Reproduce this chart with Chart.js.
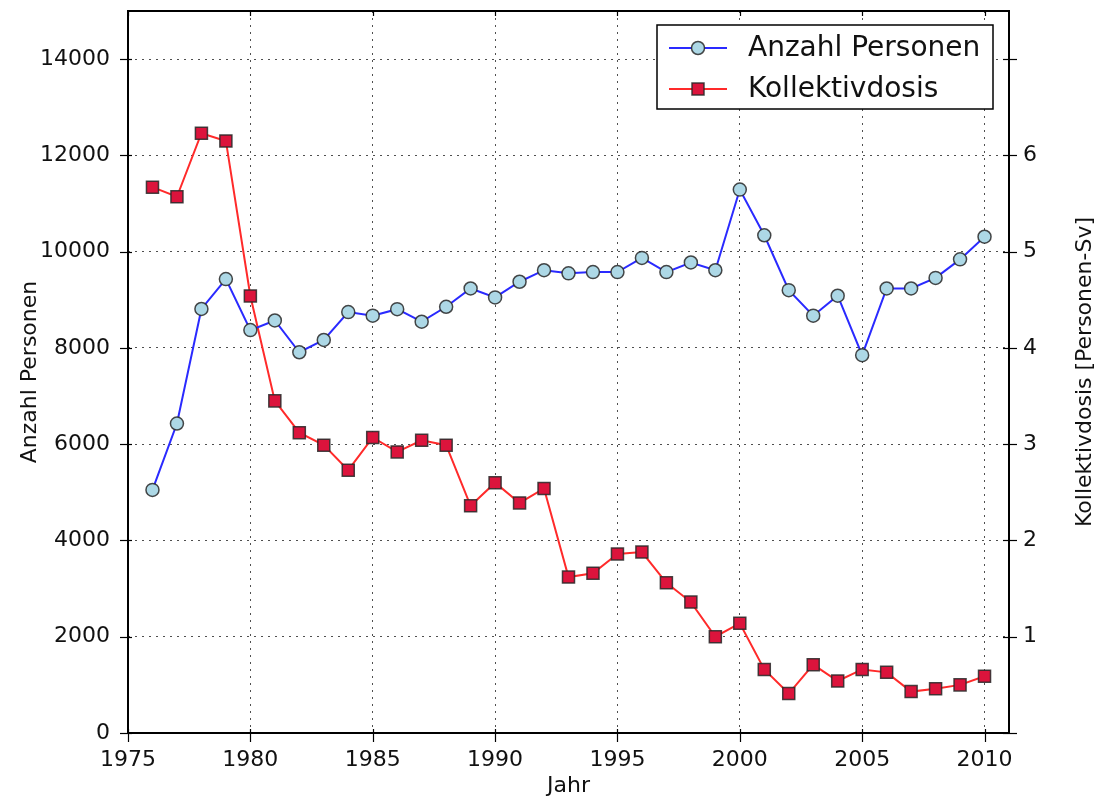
<!DOCTYPE html>
<html>
<head>
<meta charset="utf-8">
<script src="https://cdn.jsdelivr.net/npm/chart.js@4.4.0/dist/chart.umd.min.js"></script>
<style>
html, body { margin: 0; padding: 0; background: #fff; }
canvas { display: block; }
</style>
</head>
<body>
<canvas id="myChart" width="1099" height="801"></canvas>
<script>
var jahre = [1976, 1977, 1978, 1979, 1980, 1981, 1982, 1983, 1984, 1985,
             1986, 1987, 1988, 1989, 1990, 1991, 1992, 1993, 1994, 1995,
             1996, 1997, 1998, 1999, 2000, 2001, 2002, 2003, 2004, 2005,
             2006, 2007, 2008, 2009, 2010];
var personen = [5050, 6430, 8810, 9430, 8370, 8570, 7910, 8165, 8745, 8670,
                8805, 8545, 8855, 9235, 9050, 9375, 9615, 9550, 9575, 9575,
                9870, 9575, 9775, 9615, 11290, 10340, 9200, 8670, 9085, 7850,
                9235, 9235, 9455, 9840, 10310];
var dosis = [5.67, 5.57, 6.23, 6.15, 4.54, 3.45, 3.12, 2.99, 2.73, 3.07,
             2.92, 3.04, 2.99, 2.36, 2.60, 2.39, 2.54, 1.62, 1.66, 1.86,
             1.88, 1.56, 1.36, 1.00, 1.14, 0.66, 0.41, 0.71, 0.54, 0.66,
             0.63, 0.43, 0.46, 0.50, 0.59];
var xTicks = [1975, 1980, 1985, 1990, 1995, 2000, 2005, 2010];
var yTicksLinks = [0, 2000, 4000, 6000, 8000, 10000, 12000, 14000];
var yTicksRechts = [0, 1, 2, 3, 4, 5, 6, 7];

var schrift = 'DejaVu Sans';

// Rahmen, Tickstriche, Achsentitel und Legende
var zusatz = {
    id: 'zusatz',
    afterDatasetsDraw: function(chart) {
        var ctx = chart.ctx;
        var a = chart.chartArea;
        ctx.save();
        ctx.strokeStyle = '#000';
        ctx.lineWidth = 1.2;
        ctx.setLineDash([]);
        // x ticks (unten und oben)
        var sx = chart.scales.x;
        xTicks.forEach(function(v) {
            var p = Math.round(sx.getPixelForValue(v)) + 0.5;
            ctx.beginPath();
            ctx.moveTo(p, a.bottom - 4);
            ctx.lineTo(p, a.bottom + 9);
            ctx.moveTo(p, a.top);
            ctx.lineTo(p, a.top + 5);
            ctx.stroke();
        });
        var sl = chart.scales.y;
        yTicksLinks.forEach(function(v) {
            var p = Math.round(sl.getPixelForValue(v)) + 0.5;
            ctx.beginPath();
            ctx.moveTo(a.left - 8, p);
            ctx.lineTo(a.left + 4, p);
            ctx.stroke();
        });
        var sr = chart.scales.y2;
        yTicksRechts.forEach(function(v) {
            var p = Math.round(sr.getPixelForValue(v)) + 0.5;
            ctx.beginPath();
            ctx.moveTo(a.right - 6, p);
            ctx.lineTo(a.right + 8, p);
            ctx.stroke();
        });
        // Rahmen
        ctx.lineWidth = 2;
        ctx.strokeRect(a.left, a.top, a.right - a.left, a.bottom - a.top);

        // Achsentitel
        ctx.fillStyle = '#111';
        ctx.font = '22px "' + schrift + '"';
        ctx.textAlign = 'center';
        ctx.textBaseline = 'middle';
        var mitteY = (a.top + a.bottom) / 2;
        ctx.fillText('Jahr', (a.left + a.right) / 2, 786);
        ctx.save();
        ctx.translate(30, mitteY);
        ctx.rotate(-Math.PI / 2);
        ctx.fillText('Anzahl Personen', 0, 0);
        ctx.restore();
        ctx.save();
        ctx.translate(1085, mitteY);
        ctx.rotate(-Math.PI / 2);
        ctx.fillText('Kollektivdosis [Personen-Sv]', 0, 0);
        ctx.restore();

        // Legende
        var bx = a.right - 352, by = a.top + 14, bw = 336, bh = 84;
        ctx.fillStyle = '#fff';
        ctx.fillRect(bx, by, bw, bh);
        ctx.lineWidth = 1.5;
        ctx.strokeStyle = '#000';
        ctx.strokeRect(bx, by, bw, bh);
        ctx.font = '28px "' + schrift + '"';
        ctx.textAlign = 'left';
        chart.data.datasets.forEach(function(ds, i) {
            var ly = by + 23 + i * 41;
            ctx.strokeStyle = ds.borderColor;
            ctx.lineWidth = 2;
            ctx.beginPath();
            ctx.moveTo(bx + 12, ly);
            ctx.lineTo(bx + 70, ly);
            ctx.stroke();
            ctx.fillStyle = ds.pointBackgroundColor;
            ctx.strokeStyle = ds.pointBorderColor;
            ctx.lineWidth = 1.5;
            ctx.beginPath();
            if (ds.pointStyle === 'rect') {
                ctx.rect(bx + 35, ly - 6, 12, 12);
            } else {
                ctx.arc(bx + 41, ly, 6.5, 0, Math.PI * 2);
            }
            ctx.fill();
            ctx.stroke();
            ctx.fillStyle = '#111';
            ctx.fillText(ds.label, bx + 91, ly + 1);
        });
        ctx.restore();
    }
};

var daten = {
    datasets: [{
        label: 'Anzahl Personen',
        data: jahre.map(function(j, i) { return { x: j, y: personen[i] }; }),
        yAxisID: 'y',
        borderColor: '#2a2aff',
        borderWidth: 2,
        pointStyle: 'circle',
        pointRadius: 6.5,
        pointBackgroundColor: '#add8e6',
        pointBorderColor: 'rgba(40,40,40,0.85)',
        pointBorderWidth: 1.5,
        tension: 0
    }, {
        label: 'Kollektivdosis',
        data: jahre.map(function(j, i) { return { x: j, y: dosis[i] }; }),
        yAxisID: 'y2',
        borderColor: '#ff2a2a',
        borderWidth: 2,
        pointStyle: 'rect',
        pointRadius: 8.5,
        pointBackgroundColor: '#dc143c',
        pointBorderColor: 'rgba(40,40,40,0.85)',
        pointBorderWidth: 1.5,
        tension: 0
    }]
};

var gitter = {
    color: 'rgba(60,60,60,0.9)',
    lineWidth: 1,
    drawTicks: false
};
var rand = { display: false, dash: [2, 5] };

function ohnePadding(s) {
    s.paddingTop = 0;
    s.paddingBottom = 0;
    s.paddingLeft = 0;
    s.paddingRight = 0;
}

var konfig = {
    type: 'line',
    data: daten,
    plugins: [zusatz],
    options: {
        responsive: false,
        animation: false,
        layout: { padding: { top: 11, left: 0, right: 0, bottom: 0 } },
        plugins: {
            legend: { display: false },
            tooltip: { enabled: false }
        },
        scales: {
            x: {
                type: 'linear',
                min: 1975,
                max: 2011,
                afterBuildTicks: function(s) { s.ticks = xTicks.map(function(v) { return { value: v }; }); },
                afterFit: function(s) { s.height = 68; ohnePadding(s); },
                grid: gitter,
                border: rand,
                ticks: {
                    padding: 14,
                    color: '#111',
                    font: { family: schrift, size: 22 },
                    maxRotation: 0,
                    callback: function(v) { return String(v); }
                }
            },
            y: {
                type: 'linear',
                position: 'left',
                min: 0,
                max: 15000,
                afterBuildTicks: function(s) { s.ticks = yTicksLinks.map(function(v) { return { value: v }; }); },
                afterFit: function(s) { s.width = 128; ohnePadding(s); },
                grid: gitter,
                border: rand,
                ticks: {
                    padding: 18,
                    color: '#111',
                    font: { family: schrift, size: 22 },
                    callback: function(v) { return String(v); }
                }
            },
            y2: {
                type: 'linear',
                position: 'right',
                min: 0,
                max: 7.5,
                afterBuildTicks: function(s) { s.ticks = yTicksRechts.map(function(v) { return { value: v }; }); },
                afterFit: function(s) { s.width = 90; ohnePadding(s); },
                grid: { display: false, drawTicks: false },
                border: { display: false },
                ticks: {
                    padding: 14,
                    color: '#111',
                    font: { family: schrift, size: 22 },
                    callback: function(v) { return (v === 0 || v === 7) ? '' : String(v); }
                }
            }
        }
    }
};

var myChart = new Chart(document.getElementById('myChart'), konfig);
</script>
</body>
</html>
